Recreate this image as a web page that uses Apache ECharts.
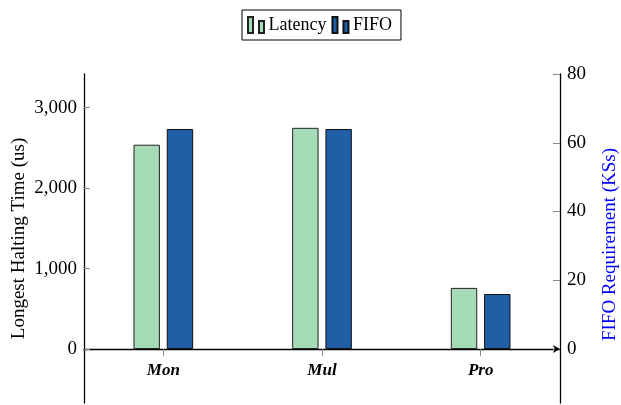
<!DOCTYPE html>
<html>
<head>
<meta charset="utf-8">
<script src="https://cdn.jsdelivr.net/npm/echarts@6/dist/echarts.min.js"></script>
<style>
html,body{margin:0;padding:0;background:#fff;}
#chart{width:621px;height:405px;}
</style>
</head>
<body>
<div id="chart"></div>
<script>
var categories = ['Mon', 'Mul', 'Pro'];
var latencyValues = [2540, 2750, 760];
var fifoValues = [64, 64, 16];
var leftTicks = [0, 1000, 2000, 3000];
var rightTicks = [0, 20, 40, 60, 80];

var FONT = '"Liberation Serif", "DejaVu Serif", serif';
var chart = echarts.init(document.getElementById('chart'), null, {renderer: 'canvas'});
var legendIcon = 'path://M0,0h5v16h-5zM11,4h5v12h-5z';

chart.setOption({
  animation: false,
  backgroundColor: '#fff',
  legend: {
    left: 242,
    top: 10,
    padding: [6, 9, 6, 5],
    borderColor: '#000',
    borderWidth: 1,
    itemWidth: 17,
    itemHeight: 16,
    itemGap: 5,
    textStyle: {fontFamily: FONT, fontSize: 18, color: '#000', padding: [0, 0, 0, -1]},
    data: [
      {name: 'Latency', icon: legendIcon},
      {name: 'FIFO', icon: legendIcon}
    ]
  },
  grid: {left: 84, right: 61, top: 74, bottom: 2, containLabel: false, outerBoundsMode: 'none'},
  xAxis: [
    {
      type: 'category',
      data: categories,
      axisLine: {onZero: true, lineStyle: {color: '#000', width: 1.3}, symbol: ['none', 'arrow'], symbolSize: [6, 7]},
      axisTick: {show: true, alignWithLabel: true, length: 7, lineStyle: {color: '#888'}},
      axisLabel: {show: false},
      splitLine: {show: false}
    },
    {
      type: 'category',
      data: categories,
      position: 'bottom',
      offset: -54,
      axisLine: {show: false, onZero: false},
      axisTick: {show: false},
      axisLabel: {margin: 13, fontFamily: FONT, fontSize: 17, fontWeight: 'bold', fontStyle: 'italic', color: '#000'},
      splitLine: {show: false}
    }
  ],
  yAxis: [
    {
      type: 'value',
      min: -671,
      max: 3419,
      name: 'Longest Halting Time (us)',
      nameLocation: 'middle',
      nameGap: 55,
      nameMoveOverlap: false,
      nameTextStyle: {fontFamily: FONT, fontSize: 19, color: '#000'},
      axisLine: {show: true, onZero: false, lineStyle: {color: '#000', width: 1.3}},
      axisTick: {show: true, inside: true, length: 6, customValues: leftTicks, lineStyle: {color: '#888'}},
      axisLabel: {margin: 7, customValues: leftTicks, fontFamily: FONT, fontSize: 19, color: '#000',
        formatter: function (v) { return v.toLocaleString('en-US'); }},
      splitLine: {show: false}
    },
    {
      type: 'value',
      position: 'right',
      min: -15.7,
      max: 80,
      name: 'FIFO Requirement (KSs)',
      nameLocation: 'middle',
      nameGap: 41,
      nameMoveOverlap: false,
      nameTextStyle: {fontFamily: FONT, fontSize: 19, color: '#0000FF', padding: [0, 12, 0, 0]},
      axisLine: {show: true, onZero: false, lineStyle: {color: '#000', width: 1.3}},
      axisTick: {show: true, inside: true, length: 7, customValues: rightTicks, lineStyle: {color: '#888'}},
      axisLabel: {margin: 7, customValues: rightTicks, fontFamily: FONT, fontSize: 19, color: '#000'},
      splitLine: {show: false}
    }
  ],
  series: [
    {
      name: 'Latency',
      type: 'bar',
      xAxisIndex: 0,
      yAxisIndex: 0,
      data: latencyValues,
      barWidth: 26.4,
      barGap: '26%',
      itemStyle: {color: '#A5DBB6', borderColor: '#222', borderWidth: 1}
    },
    {
      name: 'FIFO',
      type: 'bar',
      xAxisIndex: 0,
      yAxisIndex: 1,
      data: fifoValues,
      barWidth: 26.4,
      barGap: '26%',
      itemStyle: {color: '#205FA6', borderColor: '#111', borderWidth: 1}
    }
  ]
});
</script>
</body>
</html>
